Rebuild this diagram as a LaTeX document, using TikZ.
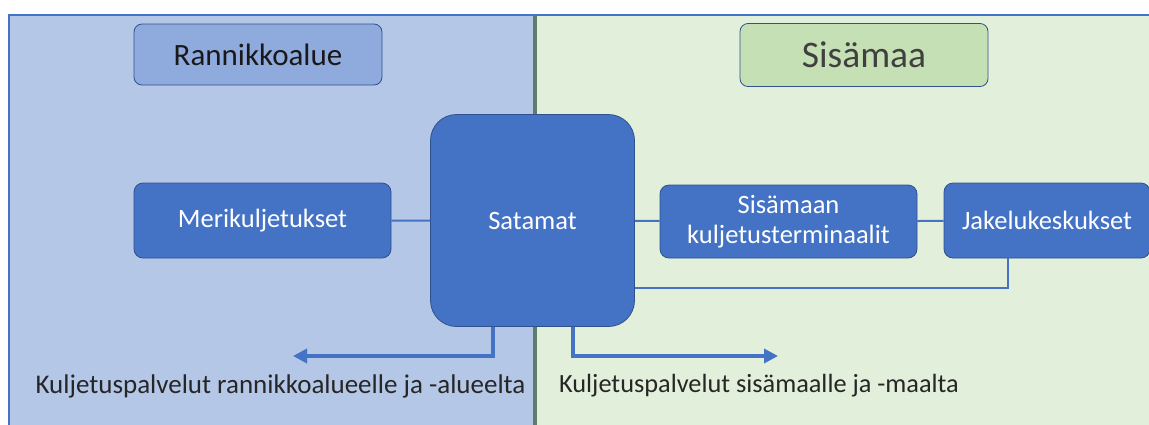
\documentclass[tikz,border=0pt]{standalone}
\usepackage{fontspec}
\setmainfont{Carlito}
\usetikzlibrary{arrows.meta,positioning}

\definecolor{coastfill}{HTML}{B4C7E7}
\definecolor{inlandfill}{HTML}{E2EFDA}
\definecolor{coasttitle}{HTML}{8FAADC}
\definecolor{inlandtitle}{HTML}{C5E0B4}
\definecolor{boxblue}{HTML}{4472C4}
\definecolor{boxedge}{HTML}{2F528F}
\definecolor{divider}{HTML}{5E7C6C}

\begin{document}
\begin{tikzpicture}
%Coast and inland transport chain
	[
	 x=1pt,y=-1pt,
	 %Styles
	 region_coast/.style={fill=coastfill,draw=boxblue,line width=1.2pt},
	 region_inland/.style={fill=inlandfill,draw=boxblue,line width=1.2pt},
	 title_node/.style={rectangle,rounded corners=8pt,draw=boxedge,line width=0.8pt,
	    minimum width=248pt,inner sep=0pt},
	 flow_node/.style={rectangle,rounded corners=9pt,fill=boxblue,draw=boxedge,line width=0.8pt,
	    text=white,font=\fontsize{26.5}{30}\selectfont,align=center,inner sep=0pt},
	 link/.style={draw=boxblue,line width=2pt},
	 service/.style={draw=boxblue,line width=4pt,-{Triangle[length=14pt,width=14pt]}},
	 label_simple/.style={rectangle,text=black!85,font=\fontsize{26.3}{30}\selectfont}
	]

	\useasboundingbox (0,0) rectangle (1149,424);
	\clip (0,0) rectangle (1149,424);

	%Regions
	\path[region_coast] (9,15) rectangle (535,440);
	\path[region_inland] (535,15) rectangle (1160,440);
	\draw[divider,line width=3.5pt] (535,15) -- (535,440);

	%Node placement
	\node (coast) [title_node,fill=coasttitle,minimum height=61pt,
	    font=\fontsize{31}{34}\selectfont,text=black!90] at (258,54.5) {Rannikkoalue};
	\node (inland) [title_node,fill=inlandtitle,minimum height=63pt,
	    font=\fontsize{37.5}{40}\selectfont,text=black!75] at (864,55) {Sisämaa};

	\node (sea) [flow_node,minimum width=257pt,minimum height=75pt] at (262.5,220.5) {Merikuljetukset};
	\node (ports) [flow_node,rounded corners=26pt,minimum width=204pt,minimum height=212pt] at (532.5,220.5) {Satamat};
	\node (terminals) [flow_node,minimum width=257pt,minimum height=73pt] at (788.5,221.5)
	    {Sisämaan\\kuljetusterminaalit};
	\node (hubs) [flow_node,minimum width=206pt,minimum height=75pt] at (1047,220.5) {Jakelukeskukset};

	\node (coast_label) [label_simple,font=\fontsize{27}{30}\selectfont] at (280.5,386)
	    {Kuljetuspalvelut rannikkoalueelle ja -alueelta};
	\node (inland_label) [label_simple] at (759,386) {Kuljetuspalvelut sisämaalle ja -maalta};

	\coordinate (coast_end) at (293,356);
	\coordinate (inland_end) at (778,356);

	%Edges
	\path[link]
	    (sea) -- (ports)
	    (ports) -- (terminals)
	    (terminals) -- (hubs);
	\draw[link] ([xshift=-39pt]hubs.south) |- ([yshift=-67.5pt]ports.east);

	\draw[service] ([xshift=-39.5pt]ports.south) |- (coast_end);
	\draw[service] ([xshift=40.5pt]ports.south) |- (inland_end);
\end{tikzpicture}
\end{document}
